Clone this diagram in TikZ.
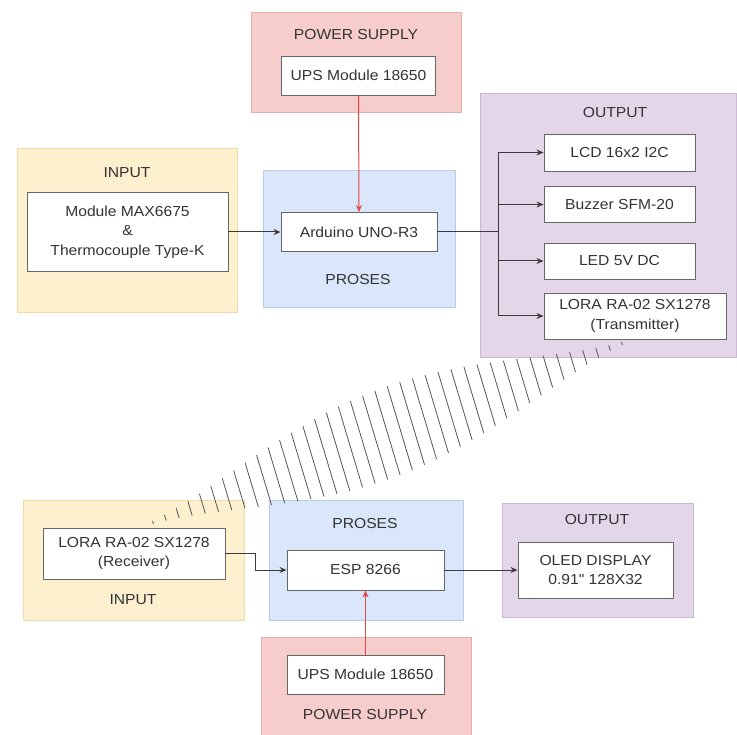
\documentclass[tikz,border=0pt]{standalone}
\usepackage{fontspec}
\setmainfont{Liberation Sans}[FakeStretch=1.08, Ligatures=TeXOff]
\usetikzlibrary{arrows.meta}

\definecolor{psfill}{HTML}{F6CDCB}
\definecolor{psline}{HTML}{E6AFAC}
\definecolor{infill}{HTML}{FDF0CF}
\definecolor{inline}{HTML}{EEDCA8}
\definecolor{prfill}{HTML}{DAE7FA}
\definecolor{prline}{HTML}{BACDE8}
\definecolor{outfill}{HTML}{E2D6E8}
\definecolor{outline}{HTML}{CBB9D5}
\definecolor{boxline}{HTML}{666666}
\definecolor{connline}{HTML}{3C3C3C}
\definecolor{pwrred}{HTML}{E2474B}
\definecolor{txtgray}{HTML}{333333}
\definecolor{hatchgray}{HTML}{555555}

\begin{document}
\begin{tikzpicture}[x=1pt, y=-1pt,
	every node/.style={font=\fontsize{14.5}{19.5}\selectfont, text=txtgray},
	grp/.style={rectangle, inner sep=0pt, line width=0.7pt},
	blok/.style={rectangle, draw=boxline, fill=white, line width=0.9pt, inner sep=0pt, align=center},
	conn/.style={draw=connline, line width=1pt, -{Stealth[length=7pt, width=6pt]}},
	pwr/.style={conn, draw=pwrred},
	hatch/.style={draw=hatchgray, line width=0.8pt}]

	\useasboundingbox (0,0) rectangle (737,735);

	% Transmitter side: group boxes
	\node[grp, fill=psfill, draw=psline, minimum width=210, minimum height=100] (psA) at (356,62) {};
	\node[grp, fill=infill, draw=inline, minimum width=220, minimum height=164] (inA) at (127,230) {};
	\node[grp, fill=prfill, draw=prline, minimum width=192, minimum height=137] (prA) at (359,238.5) {};
	\node[grp, fill=outfill, draw=outline, minimum width=256, minimum height=264] (outA) at (608.5,225) {};

	% Receiver side: group boxes
	\node[grp, fill=infill, draw=inline, minimum width=221, minimum height=120] (inB) at (133.5,560) {};
	\node[grp, fill=prfill, draw=prline, minimum width=194, minimum height=120] (prB) at (366,560) {};
	\node[grp, fill=outfill, draw=outline, minimum width=191, minimum height=114] (outB) at (597.5,560) {};
	\node[grp, fill=psfill, draw=psline, minimum width=210, minimum height=98] (psB) at (366,686) {};

	% Radio link between the two LORA modules
	\foreach \i in {0,...,38}{
		\pgfmathsetmacro{\hx}{153+12.34*\i}
		\pgfmathsetmacro{\hy}{522.5-0.382*(\hx-153)}
		\pgfmathsetmacro{\hl}{3+81*(sin(180*\i/38)+0.001)^1.4}
		\draw[hatch] (\hx-0.15*\hl, \hy-0.5*\hl) -- (\hx+0.15*\hl, \hy+0.5*\hl);
	}

	% Group titles
	\node (psAtitle) at (356,35) {POWER SUPPLY};
	\node (inAtitle) at (127,173) {INPUT};
	\node (prAtitle) at (358,280) {PROSES};
	\node (outAtitle) at (615,113) {OUTPUT};
	\node (inBtitle) at (133,600) {INPUT};
	\node (prBtitle) at (365,524) {PROSES};
	\node (outBtitle) at (597,520) {OUTPUT};
	\node (psBtitle) at (365,715) {POWER SUPPLY};

	% Transmitter side: modules
	\node[blok, minimum width=154, minimum height=39] (upsA) at (358.5,75.5) {UPS Module 18650};
	\node[blok, minimum width=201, minimum height=79] (max) at (127.5,232) {Module MAX6675\\\&\\Thermocouple Type-K};
	\node[blok, minimum width=156, minimum height=39] (ard) at (359,232) {Arduino UNO-R3};
	\node[blok, minimum width=151, minimum height=37] (lcd) at (619.5,152.5) {LCD 16x2 I2C};
	\node[blok, minimum width=151, minimum height=36] (buz) at (619.5,204.5) {Buzzer SFM-20};
	\node[blok, minimum width=151, minimum height=36] (led) at (619.5,261) {LED 5V DC};
	\node[blok, minimum width=182, minimum height=46] (loraTx) at (635,316) {LORA RA-02 SX1278\\(Transmitter)};

	% Receiver side: modules
	\node[blok, minimum width=182, minimum height=51] (loraRx) at (134,553.5) {LORA RA-02 SX1278\\(Receiver)};
	\node[blok, minimum width=157, minimum height=40] (esp) at (365.5,570) {ESP 8266};
	\node[blok, minimum width=155, minimum height=56] (oled) at (595.5,570) {OLED DISPLAY\\0.91" 128X32};
	\node[blok, minimum width=157, minimum height=39] (upsB) at (365.5,674.5) {UPS Module 18650};

	% Transmitter side: connectors
	\coordinate (split) at (498,232);
	\draw[pwr] (upsA.south) -- (ard.north);
	\draw[conn] (max.east) -- (ard.west);
	\draw[conn] (ard.east) -- (split) |- (lcd.west);
	\draw[conn] (ard.east) -- (split) |- (buz.west);
	\draw[conn] (ard.east) -- (split) |- (led.west);
	\draw[conn] (ard.east) -- (split) |- (loraTx.west);

	% Receiver side: connectors
	\coordinate (rxbend) at (255,553.5);
	\draw[conn] (loraRx.east) -- (rxbend) |- (esp.west);
	\draw[conn] (esp.east) -- (oled.west);
	\draw[pwr] (upsB.north) -- (esp.south);
\end{tikzpicture}
\end{document}
